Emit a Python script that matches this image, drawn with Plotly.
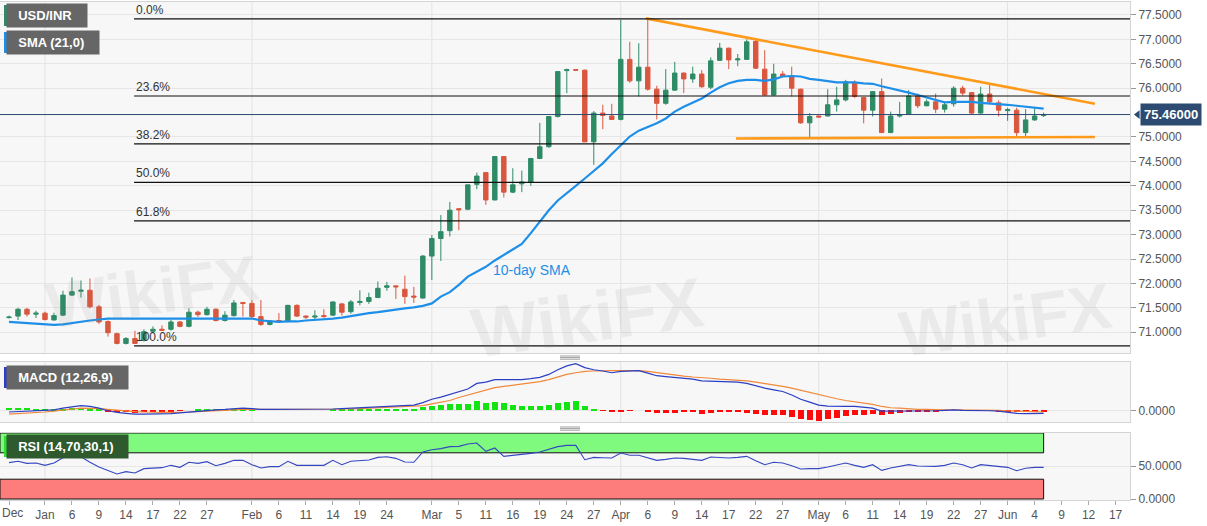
import plotly.graph_objects as go
from plotly.subplots import make_subplots

# daily USD/INR candles, one entry per trading day (index 0 = late Dec)
opens = [71.30, 71.33, 71.47, 71.37, 71.39, 71.25, 71.35, 71.76, 71.84, 71.86,
         71.52, 71.22, 70.97, 70.77, 70.87, 70.83, 71.02, 71.06, 71.06, 71.21,
         71.12, 71.41, 71.36, 71.47, 71.24, 71.34, 71.61, 71.59, 71.32, 71.16,
         71.24, 71.22, 71.55, 71.33, 71.31, 71.34, 71.35, 71.58, 71.42, 71.61,
         71.63, 71.71, 71.92, 71.95, 71.88, 71.74, 71.70, 72.56, 72.92, 73.08,
         73.53, 73.52, 74.03, 74.27, 73.71, 74.60, 73.87, 74.04, 74.07, 74.56,
         74.80, 75.42, 76.36, 76.38, 76.37, 74.90, 75.49, 75.43, 75.36, 76.59,
         76.15, 76.43, 75.98, 75.69, 75.96, 76.31, 76.19, 76.29, 76.02, 76.57,
         76.82, 76.58, 76.59, 76.96, 76.39, 75.86, 76.29, 76.25, 75.98, 75.29,
         75.43, 75.43, 75.66, 75.76, 76.12, 75.81, 75.55, 75.93, 75.09, 75.43,
         75.47, 75.84, 75.64, 75.72, 75.57, 75.68, 76.00, 75.91, 75.49, 75.88,
         75.70, 75.54, 75.55, 75.09, 75.35, 75.44]
highs = [71.34, 71.50, 71.50, 71.44, 71.42, 71.40, 71.85, 72.12, 72.06, 72.10,
         71.56, 71.24, 70.99, 70.90, 71.03, 71.06, 71.12, 71.14, 71.25, 71.23,
         71.49, 71.44, 71.52, 71.49, 71.43, 71.66, 71.61, 71.66, 71.66, 71.25,
         71.39, 71.56, 71.57, 71.35, 71.45, 71.47, 71.63, 71.60, 71.66, 71.86,
         71.81, 72.04, 72.03, 71.95, 72.16, 71.93, 72.58, 72.99, 73.40, 73.67,
         73.54, 74.02, 74.27, 74.27, 74.60, 74.61, 74.36, 74.31, 74.57, 75.29,
         75.43, 76.35, 76.40, 76.39, 76.38, 75.53, 75.66, 75.68, 77.40, 76.95,
         76.92, 77.43, 76.05, 76.39, 76.54, 76.32, 76.44, 76.37, 76.63, 76.93,
         76.83, 76.70, 77.00, 77.00, 76.78, 76.50, 76.35, 76.44, 75.99, 75.49,
         75.44, 75.98, 76.03, 76.17, 76.16, 75.82, 75.93, 76.20, 75.52, 75.72,
         75.96, 75.89, 75.77, 75.89, 75.72, 76.04, 76.05, 75.92, 76.03, 76.08,
         75.75, 75.60, 75.60, 75.57, 75.59, 75.50]
lows = [71.28, 71.25, 71.32, 71.29, 71.24, 71.24, 71.33, 71.74, 71.71, 71.49,
        71.17, 70.91, 70.75, 70.75, 70.76, 70.81, 70.98, 71.03, 71.03, 71.10,
        71.10, 71.31, 71.34, 71.22, 71.22, 71.32, 71.32, 71.29, 71.13, 71.14,
        71.20, 71.20, 71.31, 71.27, 71.27, 71.30, 71.33, 71.34, 71.38, 71.55,
        71.58, 71.70, 71.85, 71.68, 71.58, 71.60, 71.69, 72.07, 72.46, 72.96,
        73.09, 73.50, 73.93, 73.61, 73.70, 73.76, 73.85, 73.87, 74.00, 74.55,
        74.78, 75.40, 75.90, 76.36, 74.90, 74.43, 75.16, 75.35, 75.34, 76.11,
        75.83, 75.95, 75.36, 75.66, 75.95, 75.90, 76.11, 76.01, 75.98, 76.56,
        76.39, 76.45, 76.58, 76.39, 75.85, 75.85, 76.23, 75.83, 75.27, 74.99,
        75.40, 75.42, 75.52, 75.73, 75.80, 75.28, 75.42, 75.09, 75.08, 75.40,
        75.45, 75.59, 75.63, 75.49, 75.50, 75.62, 75.85, 75.46, 75.48, 75.68,
        75.42, 75.33, 75.02, 75.02, 75.33, 75.41]
closes = [71.31, 71.47, 71.37, 71.39, 71.26, 71.34, 71.76, 71.83, 71.86, 71.52,
          71.21, 70.99, 70.77, 70.87, 70.77, 71.01, 71.06, 71.04, 71.21, 71.12,
          71.41, 71.36, 71.47, 71.24, 71.35, 71.60, 71.59, 71.32, 71.16, 71.23,
          71.22, 71.55, 71.33, 71.31, 71.33, 71.32, 71.62, 71.41, 71.62, 71.63,
          71.71, 71.90, 71.95, 71.93, 71.73, 71.72, 72.56, 72.92, 73.06, 73.50,
          73.51, 74.02, 74.20, 73.71, 74.60, 73.87, 74.02, 74.08, 74.56, 74.80,
          75.42, 76.34, 76.38, 76.37, 74.90, 75.49, 75.44, 75.36, 76.59, 76.15,
          76.43, 75.98, 75.69, 75.96, 76.31, 76.19, 76.29, 76.03, 76.56, 76.82,
          76.58, 76.60, 76.95, 76.41, 75.86, 76.29, 76.25, 76.00, 75.29, 75.42,
          75.41, 75.66, 75.76, 76.13, 75.83, 75.55, 75.93, 75.09, 75.43, 75.45,
          75.84, 75.64, 75.72, 75.57, 75.66, 76.00, 75.90, 75.49, 75.88, 75.72,
          75.55, 75.56, 75.09, 75.35, 75.43, 75.46]

sma = [71.21, 71.20, 71.19, 71.18, 71.16, 71.15, 71.16, 71.19, 71.22, 71.24,
       71.26, 71.28, 71.28, 71.28, 71.28, 71.28, 71.28, 71.28, 71.28, 71.28,
       71.28, 71.28, 71.28, 71.28, 71.28, 71.28, 71.29, 71.28, 71.24, 71.22,
       71.21, 71.22, 71.22, 71.24, 71.25, 71.27, 71.28, 71.30, 71.33, 71.37,
       71.39, 71.41, 71.44, 71.47, 71.49, 71.51, 71.54, 71.59, 71.73, 71.82,
       71.97, 72.14, 72.24, 72.34, 72.47, 72.58, 72.70, 72.81, 73.03, 73.26,
       73.50, 73.70, 73.86, 74.00, 74.15, 74.31, 74.46, 74.65, 74.84, 75.01,
       75.13, 75.21, 75.28, 75.38, 75.52, 75.62, 75.71, 75.79, 75.91, 76.02,
       76.10, 76.15, 76.17, 76.17, 76.15, 76.18, 76.24, 76.25, 76.24, 76.19,
       76.17, 76.15, 76.12, 76.12, 76.12, 76.10, 76.09, 76.04, 76.00, 75.95,
       75.91, 75.86, 75.81, 75.76, 75.71, 75.72, 75.72, 75.72, 75.70, 75.69,
       75.68, 75.66, 75.64, 75.62, 75.60, 75.58]

macd = [-0.04, -0.03, -0.02, -0.01, -0.01, 0.01, 0.05, 0.08, 0.11, 0.09,
        0.05, -0.01, -0.05, -0.07, -0.09, -0.09, -0.09, -0.09, -0.08, -0.06,
        -0.04, -0.02, -0.01, 0.01, 0.02, 0.04, 0.05, 0.04, 0.02, 0.02,
        0.02, 0.02, 0.02, 0.02, 0.02, 0.02, 0.03, 0.04, 0.05, 0.06,
        0.08, 0.09, 0.09, 0.10, 0.11, 0.12, 0.18, 0.26, 0.31, 0.37,
        0.44, 0.50, 0.63, 0.66, 0.72, 0.72, 0.71, 0.72, 0.74, 0.77,
        0.84, 0.95, 1.04, 1.09, 1.00, 0.95, 0.92, 0.88, 0.91, 0.92,
        0.93, 0.87, 0.81, 0.79, 0.77, 0.75, 0.73, 0.69, 0.68, 0.68,
        0.67, 0.66, 0.63, 0.57, 0.52, 0.48, 0.44, 0.36, 0.26, 0.19,
        0.12, 0.10, 0.09, 0.09, 0.09, 0.07, 0.05, -0.02, -0.02, -0.02,
        -0.02, -0.01, -0.01, -0.01, 0.00, 0.01, 0.00, 0.00, 0.00, -0.01,
        -0.02, -0.05, -0.07, -0.08, -0.08, -0.07]
signal = [-0.09, -0.08, -0.07, -0.05, -0.04, -0.02, 0.01, 0.03, 0.05, 0.05,
          0.04, 0.02, 0.00, -0.02, -0.03, -0.04, -0.05, -0.05, -0.05, -0.05,
          -0.04, -0.03, -0.02, -0.01, 0.00, 0.02, 0.02, 0.02, 0.02, 0.02,
          0.02, 0.02, 0.02, 0.02, 0.02, 0.02, 0.02, 0.03, 0.03, 0.04,
          0.05, 0.05, 0.06, 0.07, 0.08, 0.09, 0.11, 0.15, 0.19, 0.23,
          0.30, 0.36, 0.42, 0.48, 0.53, 0.56, 0.59, 0.61, 0.64, 0.67,
          0.72, 0.78, 0.84, 0.88, 0.91, 0.92, 0.93, 0.93, 0.93, 0.93,
          0.93, 0.91, 0.88, 0.85, 0.83, 0.80, 0.78, 0.77, 0.75, 0.73,
          0.72, 0.70, 0.69, 0.66, 0.63, 0.59, 0.56, 0.52, 0.47, 0.41,
          0.36, 0.31, 0.27, 0.23, 0.20, 0.17, 0.14, 0.09, 0.06, 0.05,
          0.03, 0.02, 0.02, 0.01, 0.01, 0.01, 0.01, 0.01, 0.00, 0.00,
          0.00, -0.01, -0.02, -0.03, -0.04, -0.04]

rsi = [55.1, 57.1, 54.0, 54.5, 51.0, 54.5, 62.6, 64.1, 64.1, 55.6,
       48.5, 42.9, 37.9, 41.4, 39.4, 46.0, 47.0, 47.5, 51.0, 48.0,
       55.6, 54.0, 56.6, 50.5, 54.0, 58.6, 58.6, 52.0, 47.0, 49.0,
       49.0, 57.1, 51.0, 51.0, 51.0, 51.0, 58.6, 52.0, 57.1, 57.6,
       59.1, 63.1, 64.1, 61.6, 56.1, 55.6, 71.2, 74.7, 76.3, 79.3,
       79.8, 83.3, 84.8, 72.2, 77.3, 64.6, 66.2, 66.7, 69.2, 71.2,
       75.8, 79.3, 81.3, 81.3, 59.6, 63.1, 62.6, 62.1, 69.7, 66.2,
       66.2, 62.1, 58.6, 60.1, 62.1, 61.6, 60.6, 58.6, 63.6, 63.1,
       62.1, 63.1, 64.6, 58.1, 52.0, 55.6, 54.5, 50.5, 45.5, 46.0,
       46.0, 48.5, 52.0, 54.5, 51.0, 48.0, 52.0, 43.4, 47.0, 49.5,
       52.0, 50.0, 49.5, 49.5, 51.0, 54.5, 52.0, 47.0, 52.0, 50.5,
       49.0, 48.0, 42.9, 46.5, 48.0, 48.0]

# x axis labels (trading-day index -> label); "Dec" at index 0 is written separately
tick_idx = [0, 4, 7, 10, 13, 16, 19, 22, 27, 30, 33, 36, 39, 42, 47, 50, 53, 56,
            59, 62, 65, 68, 71, 74, 77, 80, 83, 86, 90, 93, 96, 99, 102, 105,
            108, 111, 114, 117, 120, 123]
tick_text = ["", "Jan", "6", "9", "14", "17", "22", "27", "Feb", "6", "11",
             "14", "19", "24", "Mar", "5", "11", "16", "19", "24", "27", "Apr",
             "6", "9", "14", "17", "22", "27", "May", "6", "11", "14", "19",
             "22", "27", "Jun", "4", "9", "12", "17"]
first_label = "Dec"
month_idx = [4, 27, 47, 68, 90, 111]

# price axis labels (75.5 sits under the last-price badge)
price_ticks = [71.0, 71.5, 72.0, 72.5, 73.0, 73.5, 74.0, 74.5, 75.0, 76.0,
               76.5, 77.0, 77.5]

fib_levels = [77.42, 75.84, 74.86, 74.07, 73.28, 70.72]
fib_names = ["0.0%", "23.6%", "38.2%", "50.0%", "61.8%", "100.0%"]
fib_start = 13.9

resist_x = [70.8, 120.7]
resist_y = [77.43, 75.68]
support_x = [80.8, 120.7]
support_y = [74.97, 75.00]
last_price = 75.46

GREEN = "#2e8b66"
RED = "#d9573e"
FONT = "Liberation Sans, Arial, sans-serif"
X_RANGE = [-1, 124.6]

x = list(range(len(closes)))
hist = [round(m - s, 3) for m, s in zip(macd, signal)]
hist_col = ["#11e411" if h >= 0 else "#ff0a0a" for h in hist]

fig = make_subplots(rows=3, cols=1, shared_xaxes=True)

fig.add_trace(go.Candlestick(
    x=x, open=opens, high=highs, low=lows, close=closes,
    increasing=dict(line=dict(color=GREEN, width=1), fillcolor=GREEN),
    decreasing=dict(line=dict(color=RED, width=1), fillcolor=RED),
    whiskerwidth=0, showlegend=False, hoverinfo="skip"), row=1, col=1)
fig.add_trace(go.Scatter(x=x, y=sma, mode="lines",
                         line=dict(color="#1e8fe8", width=2.2),
                         showlegend=False, hoverinfo="skip"), row=1, col=1)
fig.add_trace(go.Scatter(x=resist_x, y=resist_y, mode="lines",
                         line=dict(color="#ff9a1a", width=2.6),
                         showlegend=False, hoverinfo="skip"), row=1, col=1)
fig.add_trace(go.Scatter(x=support_x, y=support_y, mode="lines",
                         line=dict(color="#ff9a1a", width=2.6),
                         showlegend=False, hoverinfo="skip"), row=1, col=1)

fig.add_trace(go.Bar(x=x, y=hist, marker=dict(color=hist_col, line=dict(width=0)),
                     width=0.65, showlegend=False, hoverinfo="skip"), row=2, col=1)
fig.add_trace(go.Scatter(x=x, y=signal, mode="lines",
                         line=dict(color="#f0883a", width=1.2),
                         showlegend=False, hoverinfo="skip"), row=2, col=1)
fig.add_trace(go.Scatter(x=x, y=macd, mode="lines",
                         line=dict(color="#2a3fc4", width=1.2),
                         showlegend=False, hoverinfo="skip"), row=2, col=1)

fig.add_trace(go.Scatter(x=x, y=rsi, mode="lines",
                         line=dict(color="#3447c0", width=1.1),
                         showlegend=False, hoverinfo="skip"), row=3, col=1)

shapes = []
# month grid lines in every panel
for ax in ["", "2", "3"]:
    for m in month_idx:
        shapes.append(dict(type="line", xref="x" + ax, yref="y" + ax + " domain",
                           x0=m, x1=m, y0=0, y1=1, layer="below",
                           line=dict(color="#e2e2e2", width=1)))

# RSI zones
shapes.append(dict(type="rect", xref="x3", yref="y3", x0=X_RANGE[0], x1=len(closes) - 1,
                   y0=70, y1=100, fillcolor="#7ffa7f", layer="below",
                   line=dict(color="#111111", width=1)))
shapes.append(dict(type="rect", xref="x3", yref="y3", x0=X_RANGE[0], x1=len(closes) - 1,
                   y0=0, y1=30, fillcolor="#fd7d7d", layer="below",
                   line=dict(color="#111111", width=1)))

# fibonacci retracement lines
for lv in fib_levels:
    shapes.append(dict(type="line", xref="x", yref="y", x0=fib_start, x1=X_RANGE[1],
                       y0=lv, y1=lv, line=dict(color="#111111", width=1.2)))

# last price line and its pointer
shapes.append(dict(type="line", xref="x domain", yref="y", x0=0, x1=1,
                   y0=last_price, y1=last_price, line=dict(color="#2d4a70", width=1)))
shapes.append(dict(type="path", xref="paper", yref="y",
                   path="M 1.0035,%.3f L 1.0085,%.3f L 1.0085,%.3f Z"
                   % (last_price, last_price + 0.09, last_price - 0.09),
                   fillcolor="#2d4a70", line=dict(width=0)))

# legend badges colour strips
PH = 498.0
def py(p):
    return (500 - p) / PH

badges = [("USD/INR", 5, 26, "#666666", GREEN),
          ("SMA (21,0)", 32, 53, "#666666", "#1e8fe8"),
          ("MACD (12,26,9)", 367, 388, "#666666", "#2a3fc4"),
          ("RSI (14,70,30,1)", 436, 457, "#2e5a2e", "#33dd33")]
annotations = []
for text, top, bot, bg, strip in badges:
    annotations.append(dict(text="&nbsp;&nbsp;<b>" + text + "</b>&nbsp;&nbsp;&nbsp;",
                            xref="paper", yref="paper",
                            x=6 / 1130, y=py((top + bot) / 2), xanchor="left",
                            yanchor="middle", showarrow=False, bgcolor=bg,
                            borderpad=4, font=dict(color="white", size=13, family=FONT)))
    shapes.append(dict(type="rect", xref="paper", yref="paper", x0=4 / 1130, x1=7 / 1130,
                       y0=py(bot), y1=py(top), fillcolor=strip, line=dict(width=0)))

# panel handles
for hy in [356, 427]:
    for k in range(3):
        shapes.append(dict(type="line", xref="paper", yref="paper",
                           x0=560 / 1130, x1=580 / 1130,
                           y0=py(hy + k * 1.6), y1=py(hy + k * 1.6),
                           line=dict(color="#888888", width=0.8)))

for lv, name in zip(fib_levels, fib_names):
    annotations.append(dict(text=name, xref="x", yref="y", x=fib_start, y=lv,
                            xanchor="left", yanchor="bottom", showarrow=False,
                            font=dict(color="#333333", size=12, family=FONT)))

annotations.append(dict(text="10-day SMA", xref="x", yref="y", x=58.1, y=72.27,
                        showarrow=False, font=dict(color="#1e8fe8", size=14, family=FONT)))

annotations.append(dict(text="<b>75.46000</b>", xref="paper", yref="y", x=1.0085,
                        y=last_price, xanchor="left", yanchor="middle", showarrow=False,
                        bgcolor="#2d4a70", borderpad=3,
                        font=dict(color="white", size=13, family=FONT)))

# first x label kept inside the page edge
annotations.append(dict(text=first_label, xref="paper", yref="paper", x=0.0, y=py(513),
                        xanchor="left", yanchor="middle", showarrow=False,
                        font=dict(color="#555555", size=12, family=FONT)))

# faint watermarks
for wx, wy, sz in [(0.035, py(292), 64), (0.52, py(318), 70), (0.99, py(320), 64)]:
    annotations.append(dict(text="<b>WikiFX</b>", xref="paper", yref="paper", x=wx, y=wy,
                            showarrow=False, textangle=-8,
                            font=dict(color="rgba(140,140,140,0.11)", size=sz, family=FONT)))

axis_common = dict(showline=True, mirror=True, linecolor="#d4d4d4", zeroline=False)

fig.update_layout(
    width=1207, height=526,
    margin=dict(l=0, r=77, t=2, b=26),
    paper_bgcolor="white", plot_bgcolor="#f7f7f7",
    shapes=shapes, annotations=annotations,
    bargap=0, showlegend=False,
    font=dict(family=FONT, color="#555555", size=12),
    xaxis=dict(range=X_RANGE, showgrid=False, showticklabels=False,
               rangeslider=dict(visible=False), **axis_common),
    xaxis2=dict(range=X_RANGE, showgrid=False, showticklabels=False, **axis_common),
    xaxis3=dict(range=X_RANGE, showgrid=False, tickmode="array", tickvals=tick_idx,
                ticktext=tick_text, ticks="outside", ticklen=4, tickcolor="#aaaaaa",
                tickfont=dict(size=12, color="#555555"), **axis_common),
    yaxis=dict(domain=[(500 - 353) / PH, 1], range=[70.574, 77.766], side="right",
               tickmode="array", tickvals=price_ticks, tickformat=".4f",
               ticks="outside", ticklen=5, tickcolor="#999999", gridcolor="#e6e6e6",
               **axis_common),
    yaxis2=dict(domain=[(500 - 422) / PH, (500 - 362) / PH], range=[-0.274, 1.131],
                side="right", tickmode="array", tickvals=[0], tickformat=".4f",
                ticks="outside", ticklen=5, tickcolor="#999999", gridcolor="#e6e6e6",
                **axis_common),
    yaxis3=dict(domain=[0, (500 - 433) / PH], range=[-1.5, 100], side="right",
                tickmode="array", tickvals=[0, 50], tickformat=".4f",
                ticks="outside", ticklen=5, tickcolor="#999999", gridcolor="#e6e6e6",
                **axis_common),
)

fig.write_html("out.html", config={"displayModeBar": False},
               post_script="document.body.style.margin='0px';")
